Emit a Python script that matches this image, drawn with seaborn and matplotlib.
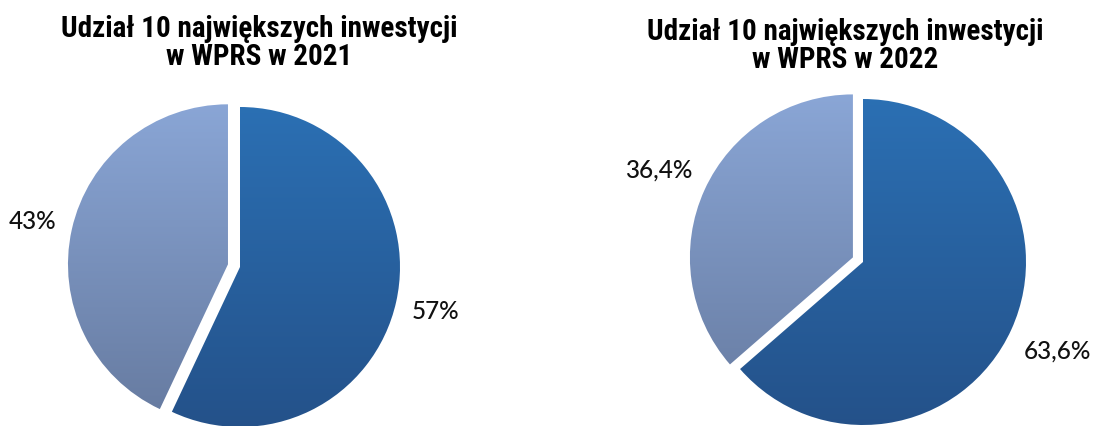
import numpy as np
import matplotlib
matplotlib.use("Agg")
import matplotlib.pyplot as plt
import seaborn as sns

# ---- data ----
titles = ["Udział 10 największych inwestycji\nw WPRS w 2021",
          "Udział 10 największych inwestycji\nw WPRS w 2022"]
values_2021 = [57, 43]
values_2022 = [63.6, 36.4]
labels_2021 = ["57%", "43%"]
labels_2022 = ["63,6%", "36,4%"]

# ---- style ----
sns.set_style("white")
title_font = ["Roboto Condensed", "Liberation Sans"]
label_font = ["Lato", "DejaVu Sans"]

dark_cmap = sns.blend_palette(["#2B70B4", "#245189"], n_colors=256, as_cmap=True)
light_cmap = sns.blend_palette(["#8AA6D6", "#65799E"], n_colors=256, as_cmap=True)

W, H = 1094, 427
fig = plt.figure(figsize=(W / 100, H / 100), dpi=100)
ax = fig.add_axes([0, 0, 1, 1])

pies = [
    dict(vals=values_2021, labels=labels_2021, center=(240, H - 268), r=160,
         explode=0.077, ld=1.25, title=titles[0], tpos=(259, H - 43)),
    dict(vals=values_2022, labels=labels_2022, center=(863, H - 263), r=163,
         explode=0.068, ld=1.31, title=titles[1], tpos=(845, H - 46)),
]

for p in pies:
    cx, cy = p["center"]
    r = p["r"]
    wedges, texts = ax.pie(p["vals"], labels=p["labels"], explode=[0, p["explode"] * r],
                           startangle=90, counterclock=False, center=p["center"],
                           radius=r, labeldistance=p["ld"],
                           wedgeprops=dict(linewidth=0),
                           textprops=dict(fontsize=17.5, family=label_font,
                                          fontweight=500, color="#111111"))
    for t in texts:
        t.set_ha("center")
        t.set_va("center")
    grad = np.linspace(0, 1, 256).reshape(-1, 1)
    for w, cmap in zip(wedges, [dark_cmap, light_cmap]):
        w.set_facecolor("none")
        im = ax.imshow(grad, cmap=cmap, aspect="auto", origin="upper",
                       extent=(cx - r - 30, cx + r + 30, cy - r - 5, cy + r + 5),
                       interpolation="bilinear", zorder=0.5)
        im.set_clip_path(w)
    ax.text(p["tpos"][0], p["tpos"][1], p["title"], ha="center", va="center",
            fontsize=21, fontweight="bold", family=title_font, color="black",
            linespacing=0.98)

ax.set_xlim(0, W)
ax.set_ylim(0, H)
ax.set_aspect("auto")
ax.axis("off")
fig.savefig("out.png", dpi=100, facecolor="white")
